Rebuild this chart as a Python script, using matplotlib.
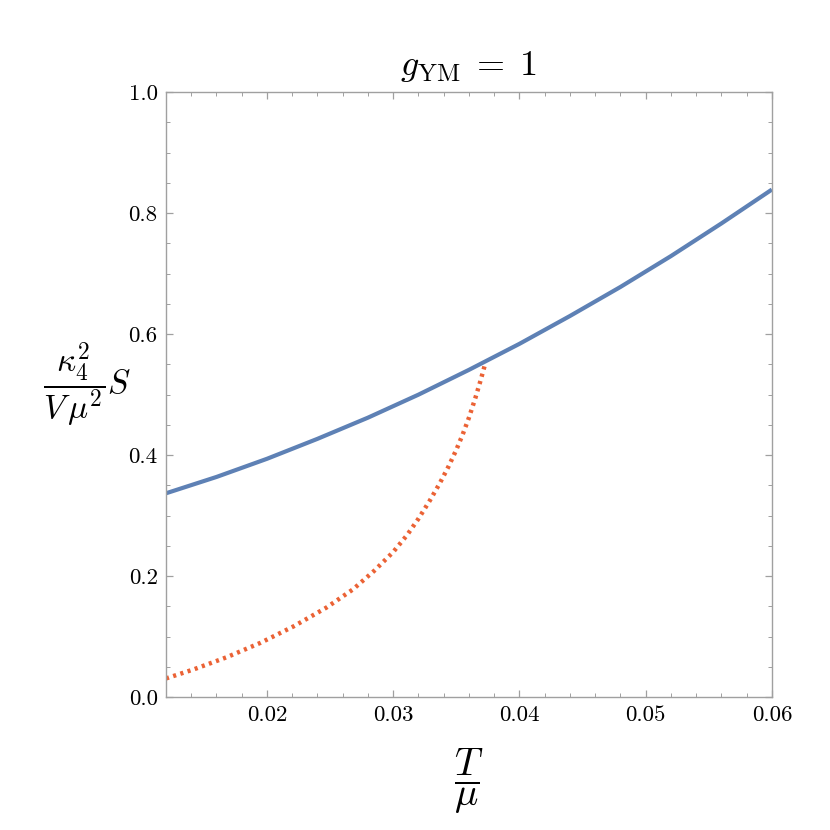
import matplotlib
matplotlib.use("Agg")
import matplotlib.pyplot as plt
from matplotlib.ticker import MultipleLocator

plt.rcParams['font.family'] = 'serif'
plt.rcParams['font.serif'] = ['cmr10']
plt.rcParams['mathtext.fontset'] = 'cm'
plt.rcParams['axes.unicode_minus'] = False

# blue (solid) branch
t_blue = [0.012, 0.016, 0.020, 0.024, 0.028, 0.032, 0.036,
          0.040, 0.044, 0.048, 0.052, 0.056, 0.060]
s_blue = [0.337, 0.364, 0.394, 0.427, 0.462, 0.500, 0.541,
          0.584, 0.630, 0.678, 0.729, 0.783, 0.839]

# orange (dotted) branch
t_red = [0.0120, 0.0142, 0.0168, 0.0195, 0.0221, 0.0247, 0.0268, 0.0285,
         0.0300, 0.0311, 0.0320, 0.0329, 0.0337, 0.0344, 0.0350, 0.0355,
         0.0360, 0.0365, 0.0369, 0.0373]
s_red = [0.031, 0.046, 0.066, 0.090, 0.117, 0.148, 0.178, 0.209,
         0.240, 0.268, 0.295, 0.325, 0.354, 0.382, 0.409, 0.434,
         0.462, 0.494, 0.522, 0.552]

fig = plt.figure(figsize=(8.3, 8.3), dpi=100)
ax = fig.add_axes([0.2, 0.16, 0.73, 0.729])

ax.plot(t_blue, s_blue, color='#5E81B5', lw=3.0, solid_capstyle='butt')
ax.plot(t_red, s_red, color='#EB6235', lw=3.2, linestyle=(0, (0.7, 1.0)),
        dash_capstyle='butt')

ax.set_xlim(0.012, 0.06)
ax.set_ylim(0, 1)
ax.xaxis.set_minor_locator(MultipleLocator(0.002))
ax.yaxis.set_minor_locator(MultipleLocator(0.05))
ax.set_xticks([0.02, 0.03, 0.04, 0.05, 0.06])
ax.set_xticklabels(['0.02', '0.03', '0.04', '0.05', '0.06'])
ax.set_yticks([0.0, 0.2, 0.4, 0.6, 0.8, 1.0])
ax.set_yticklabels(['0.0', '0.2', '0.4', '0.6', '0.8', '1.0'])

for sp in ax.spines.values():
    sp.set_color('#a0a0a0')
    sp.set_linewidth(1.0)
ax.tick_params(which='both', direction='in', top=True, right=True,
               color='#a0a0a0', labelsize=16.5)
ax.tick_params(which='major', length=5, width=0.9, pad=6)
ax.tick_params(which='minor', length=2.8, width=0.7)

ax.set_title(r'$g_{\mathrm{YM}}\;=\;1$', fontsize=26, pad=12)
ax.set_xlabel(r'$\dfrac{T}{\mu}$', fontsize=28)
ax.xaxis.set_label_coords(0.5, -0.14)
ax.xaxis.label.set_va('center')
ax.set_ylabel(r'$\dfrac{\kappa_4^2}{V\,\mu^2}S$', fontsize=24, rotation=0)
ax.yaxis.set_label_coords(-0.13, 0.515)
ax.yaxis.label.set_va('center')
ax.yaxis.label.set_ha('center')

fig.savefig('out.png', dpi=100)
